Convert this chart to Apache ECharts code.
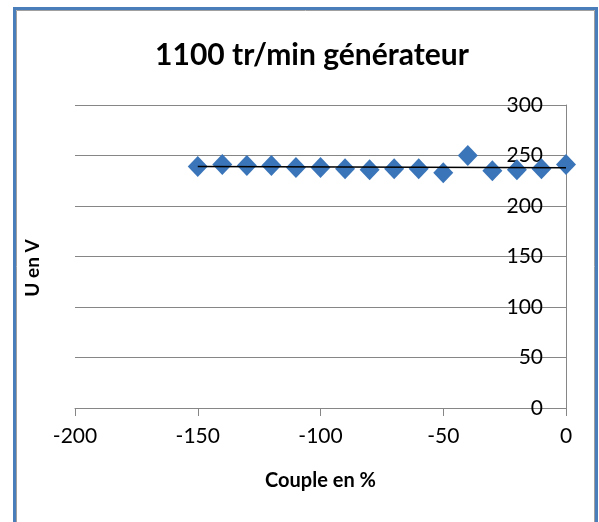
<!DOCTYPE html>
<html>
<head>
<meta charset="utf-8">
<script src="https://cdn.jsdelivr.net/npm/echarts@6/dist/echarts.min.js"></script>
<style>
html,body{margin:0;padding:0;background:#fff;}
#chart{width:599px;height:522px;}
</style>
</head>
<body>
<div id="chart"></div>
<script>
const title = '1100 tr/min générateur';
const xName = 'Couple en %';
const yName = 'U en V';
const couple = [-150, -140, -130, -120, -110, -100, -90, -80, -70, -60, -50, -40, -30, -20, -10, 0];
const tension = [239, 241, 240, 240, 238, 238, 237, 236, 237, 237, 233, 250, 235, 236, 237, 241];

// linear trend line (least squares) computed from the data
const n = couple.length;
const mx = couple.reduce((a, b) => a + b, 0) / n;
const my = tension.reduce((a, b) => a + b, 0) / n;
let sxy = 0, sxx = 0;
for (let i = 0; i < n; i++) { sxy += (couple[i] - mx) * (tension[i] - my); sxx += (couple[i] - mx) ** 2; }
const slope = sxy / sxx, icpt = my - slope * mx;
const xMin = Math.min(...couple), xMax = Math.max(...couple);
const trend = [[xMin, icpt + slope * xMin], [xMax, icpt + slope * xMax]];

const font = 'Lato, "Open Sans", sans-serif';
const chart = echarts.init(document.getElementById('chart'), null, {renderer: 'canvas'});
chart.setOption({
  backgroundColor: '#fff',
  animation: false,
  title: {
    text: title, left: 307, top: 35, textAlign: 'center',
    textStyle: {fontFamily: font, fontWeight: 'bold', fontSize: 30, color: '#000'}
  },
  graphic: [
    {type: 'rect', shape: {x: 14.5, y: 8.5, width: 582, height: 530},
     style: {fill: 'none', stroke: '#4A7EBB', lineWidth: 3}},
    {type: 'rect', shape: {x: 16.5, y: 10.5, width: 578, height: 530},
     style: {fill: 'none', stroke: '#A0A0A0', lineWidth: 1}},
    {type: 'text', x: 33, y: 268, rotation: Math.PI / 2,
     style: {text: yName, fontFamily: font, fontWeight: 'bold', fontSize: 19, fill: '#000',
             textAlign: 'center', textVerticalAlign: 'middle'}}
  ],
  grid: {left: 75, right: 33, top: 105, bottom: 114},
  xAxis: {
    type: 'value', min: -200, max: 0, interval: 50,
    name: xName, nameLocation: 'middle', nameGap: 63,
    nameTextStyle: {fontFamily: font, fontWeight: 'bold', fontSize: 20, color: '#000'},
    axisLine: {show: true, onZero: false, lineStyle: {color: '#868686', width: 1}},
    axisTick: {show: true, length: 8, lineStyle: {color: '#868686'}},
    axisLabel: {fontFamily: font, fontSize: 21, color: '#000', margin: 18},
    splitLine: {show: false}
  },
  yAxis: {
    type: 'value', position: 'right', min: 0, max: 300, interval: 50,
    axisLine: {show: true, lineStyle: {color: '#868686', width: 1}},
    axisTick: {show: false},
    axisLabel: {inside: true, margin: 23, fontFamily: font, fontSize: 21, color: '#000'},
    splitLine: {show: true, lineStyle: {color: '#868686', width: 1}}
  },
  series: [
    {type: 'scatter', data: couple.map((x, i) => [x, tension[i]]),
     symbol: 'diamond', symbolSize: [20, 21],
     itemStyle: {color: '#3A75B9', opacity: 1}, z: 3},
    {type: 'line', data: trend, showSymbol: false, symbol: 'none',
     lineStyle: {color: '#000', width: 1.5}, z: 4}
  ]
});
</script>
</body>
</html>
